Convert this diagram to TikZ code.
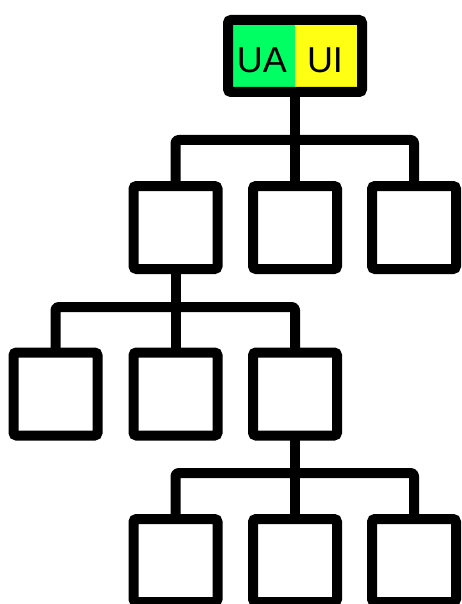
\documentclass[tikz,border=0pt]{standalone}
\usepackage{fontspec}
\setmainfont{Liberation Sans}
\definecolor{uagreen}{RGB}{0,255,98}
\definecolor{uiyellow}{RGB}{255,255,20}
\begin{document}
\begin{tikzpicture}[x=1pt,y=-1pt,
  box/.style={draw=black,line width=10pt,fill=white,rounded corners=3pt,
    minimum width=84pt,minimum height=83pt,inner sep=0pt,outer sep=0pt},
  link/.style={line width=10pt,rounded corners=3pt,line join=round},
  lbl/.style={inner sep=0pt,font=\fontsize{36}{36}\selectfont}]
\useasboundingbox (0,0) rectangle (461,604);
\clip (0,0) rectangle (461,604);
% root
\node[draw=black,line width=10pt,rounded corners=3pt,inner sep=0pt,outer sep=0pt,
  minimum width=134pt,minimum height=72pt,
  path picture={
    \fill[uagreen] (path picture bounding box.south west) rectangle (path picture bounding box.north);
    \fill[uiyellow] (path picture bounding box.south) rectangle (path picture bounding box.north east);
  }] (root) at (295,56) {};
\node[lbl] (ua) at (262,60) {UA};
\node[lbl] (ui) at (325,60) {UI};
% level 1
\node[box] (a1) at (175.5,227.5) {};
\node[box] (a2) at (295,227.5) {};
\node[box] (a3) at (414,227.5) {};
% level 2
\node[box] (b1) at (55.5,394) {};
\node[box] (b2) at (175.5,394) {};
\node[box] (b3) at (295,394) {};
% level 3
\node[box] (c1) at (175.5,560.5) {};
\node[box] (c2) at (295,560.5) {};
\node[box] (c3) at (414,560.5) {};
% connectors
\coordinate (bar1) at (295,140);
\coordinate (bar2) at (175.5,307);
\coordinate (bar3) at (295,473);
\draw[link] (root.south) -- (a2.north);
\draw[link] (a1.north) |- (bar1) -| (a3.north);
\draw[link] (a1.south) -- (b2.north);
\draw[link] (b1.north) |- (bar2) -| (b3.north);
\draw[link] (b3.south) -- (c2.north);
\draw[link] (c1.north) |- (bar3) -| (c3.north);
\end{tikzpicture}
\end{document}
